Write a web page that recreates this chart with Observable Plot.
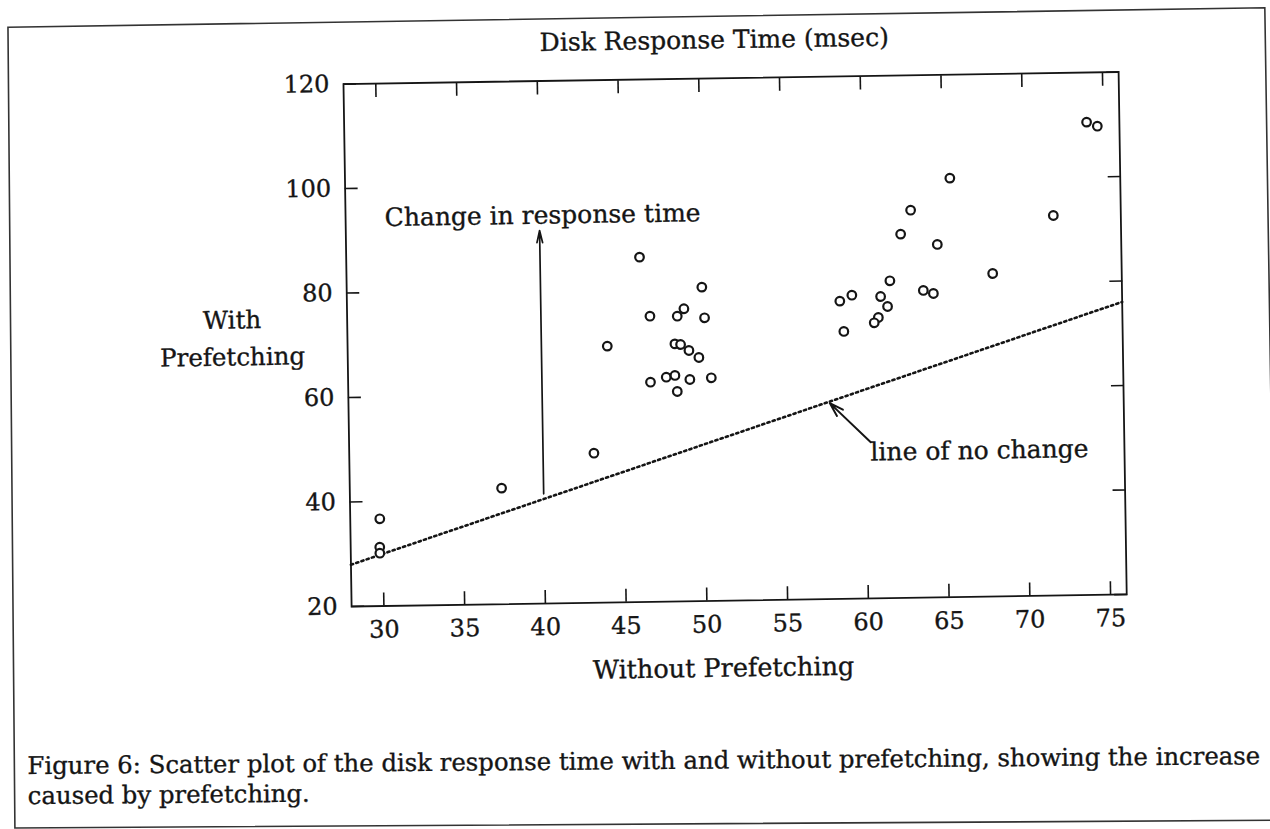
<!DOCTYPE html>
<html>
<head>
<meta charset="utf-8">
<script src="https://cdn.jsdelivr.net/npm/d3@7"></script>
<script src="https://cdn.jsdelivr.net/npm/@observablehq/plot@0.6"></script>
<style>
html, body { margin: 0; padding: 0; background: #fff; width: 1270px; height: 829px; overflow: hidden; }
#page { position: absolute; left: 0; top: 0; width: 1270px; height: 829px;
  transform: rotate(-0.89deg); transform-origin: 352px 606px;
  font-family: "DejaVu Serif", serif; color: #151515; }
#border { position: absolute; left: 0; top: 0; overflow: visible; }
#title { position: absolute; left: 323px; width: 800px; top: 32.9px; text-align: center;
  font-size: 25px; line-height: 1; white-space: nowrap; -webkit-text-stroke: 0.35px #151515; }
#chart { position: absolute; left: 0; top: 0; }
#caption { position: absolute; left: 25px; top: 746.4px; font-size: 24.35px; line-height: 30px;
  white-space: nowrap; transform-origin: 0 23.6px; transform: rotate(0.43deg); -webkit-text-stroke: 0.35px #151515; }
</style>
</head>
<body>
<div id="page">
  <svg id="border" width="1300" height="850">
    <path d="M17,22 L1274,22 L1274,834.6 L11.5,822.7 Z" fill="none" stroke="#333" stroke-width="1.6"/>
  </svg>
  <div id="title"></div>
  <div id="chart"></div>
  <div id="caption"></div>
</div>
<script>
// ---- data ----
const titleText = "Disk Response Time (msec)";
const xLabel = "Without Prefetching";
const yLabel = "With\nPrefetching";
const captionLines = [
  "Figure 6: Scatter plot of the disk response time with and without prefetching, showing the increase",
  "caused by prefetching."
];

const withoutPrefetching = [
  46.16, 49.99, 46.75, 48.44, 48.86, 50.13, 44.08, 48.27, 48.62, 49.13, 49.74,
  46.72, 47.70, 48.24, 49.16, 50.49, 48.37, 43.15, 37.40, 29.83, 29.80, 29.80,
  73.97, 74.63, 65.45, 62.99, 71.82, 62.35, 64.61, 68.01, 61.64, 63.70, 64.32,
  59.27, 58.52, 61.05, 61.47, 60.89, 60.63, 58.74
];
const withPrefetching = [
  86.0, 80.07, 74.67, 74.59, 75.99, 74.2, 69.06, 69.3, 69.16, 67.99, 66.62,
  62.04, 62.95, 63.25, 62.44, 62.7, 60.18, 48.62, 42.2, 36.7, 31.27, 30.12,
  110.5, 109.7, 100.19, 94.18, 92.74, 89.62, 87.54, 81.82, 80.73, 78.78, 78.17,
  78.09, 76.98, 77.75, 75.82, 73.74, 72.74, 71.17
];

const xTicks = [30, 35, 40, 45, 50, 55, 60, 65, 70, 75];
const yTicks = [20, 40, 60, 80, 100, 120];

// line of no change (y = x)
const noChangeX = [28, 76];
const noChangeY = [28, 76];

// annotations
const changeArrowX = [40, 40];
const changeArrowY = [41, 91.4];
const changeText = "Change in response time";
const changeTextX = 40.2;
const changeTextY = 92.7;

const noChangeArrowX = [60.3, 57.8];
const noChangeArrowY = [49.9, 57.5];
const noChangeText = "line of no change";
const noChangeTextX = 60.27;
const noChangeTextY = 46.4;

// ---- build ----
const points = withoutPrefetching.map((x, i) => ({x, y: withPrefetching[i]}));
const noChange = noChangeX.map((x, i) => ({x, y: noChangeY[i]}));
const changeArrow = [{x1: changeArrowX[0], y1: changeArrowY[0], x2: changeArrowX[1], y2: changeArrowY[1]}];
const noChangeArrow = [{x1: noChangeArrowX[0], y1: noChangeArrowY[0], x2: noChangeArrowX[1], y2: noChangeArrowY[1]}];

const ink = "#151515";
const thick = {stroke: ink, strokeWidth: 0.35};

const chart = Plot.plot({
  width: 1270,
  height: 700,
  marginTop: 83.5,
  marginBottom: 94,
  marginLeft: 351.1,
  marginRight: 143.7,
  style: {fontFamily: '"DejaVu Serif", serif', fontSize: "24px", color: ink, background: "transparent", overflow: "visible"},
  x: {domain: [28, 76]},
  y: {domain: [20, 120]},
  marks: [
    Plot.axisX({anchor: "bottom", ticks: xTicks, tickSize: -13, tickPadding: 27.5, label: null, fontSize: 24, strokeWidth: 1.6, textStroke: ink, textStrokeWidth: 0.35, tickFormat: d => String(d)}),
    Plot.axisX({anchor: "top", ticks: xTicks, tickSize: -13, fill: "none", label: null, strokeWidth: 1.6}),
    Plot.axisY({anchor: "left", ticks: yTicks, tickSize: -13, tickPadding: 27, label: null, fontSize: 24, strokeWidth: 1.6, textStroke: ink, textStrokeWidth: 0.35, tickFormat: d => String(d)}),
    Plot.axisY({anchor: "right", ticks: yTicks, tickSize: -13, fill: "none", label: null, strokeWidth: 1.6}),
    Plot.frame({stroke: ink, strokeWidth: 1.8}),
    Plot.line(noChange, {x: "x", y: "y", stroke: ink, strokeWidth: 2.6, strokeDasharray: "2.2,3.3"}),
    Plot.dot(points, {x: "x", y: "y", r: 4.3, stroke: ink, strokeWidth: 2.2, fill: "white"}),
    Plot.arrow(changeArrow, {x1: "x1", y1: "y1", x2: "x2", y2: "y2", stroke: ink, strokeWidth: 1.7, headLength: 11, headAngle: 26}),
    Plot.text([changeText], {x: () => changeTextX, y: () => changeTextY, text: d => d, textAnchor: "middle", lineAnchor: "bottom", fontSize: 25, fill: ink, ...thick}),
    Plot.arrow(noChangeArrow, {x1: "x1", y1: "y1", x2: "x2", y2: "y2", stroke: ink, strokeWidth: 2, headLength: 11, headAngle: 34}),
    Plot.text([noChangeText], {x: () => noChangeTextX, y: () => noChangeTextY, text: d => d, textAnchor: "start", lineAnchor: "bottom", fontSize: 25, fill: ink, ...thick}),
    Plot.text([xLabel], {frameAnchor: "bottom", text: d => d, dx: -16.7, dy: 76, lineAnchor: "bottom", fontSize: 25.5, fill: ink, ...thick}),
    Plot.text([yLabel], {frameAnchor: "left", text: d => d, dx: -115.1, dy: -11.95, textAnchor: "middle", lineAnchor: "middle", lineHeight: 1.51, fontSize: 24.5, fill: ink, ...thick})
  ]
});

document.getElementById("chart").appendChild(chart);
document.getElementById("title").textContent = titleText;
const cap = document.getElementById("caption");
captionLines.forEach((t, i) => {
  const d = document.createElement("div");
  d.textContent = t;
  cap.appendChild(d);
});
</script>
</body>
</html>
